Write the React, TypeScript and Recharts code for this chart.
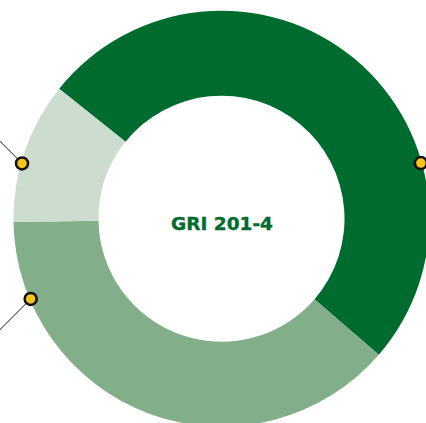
import React from 'react';
import { PieChart, Pie, Cell } from 'recharts';

const segments = ['Dark', 'Medium', 'Light'];
const shares = [50.6, 38.4, 11.0];
const colors = ['#006B2E', '#82AF89', '#CCDDCF'];
// where each callout marker sits on the ring (degrees) and which way its leader line runs
const calloutAngles = [15.6, -157.2, 164.5];
const leaderDirs = [0, -135, 135];
const centerLabel = 'GRI 201-4';

const data = segments.map((name, i) => ({ name, value: shares[i] }));

const RAD = Math.PI / 180;

const renderCallout = (props: any) => {
  const { cx, cy, outerRadius, index } = props;
  const a = calloutAngles[index] * RAD;
  const r = outerRadius - 1;
  const x = cx + r * Math.cos(a);
  const y = cy - r * Math.sin(a);
  const d = leaderDirs[index] * RAD;
  const len = 50;
  return (
    <g key={`callout-${index}`}>
      <line
        x1={x}
        y1={y}
        x2={x + len * Math.cos(d)}
        y2={y - len * Math.sin(d)}
        stroke="#1a1a1a"
        strokeWidth={1}
      />
      <circle cx={x} cy={y} r={6} fill="#F5C518" stroke="#111" strokeWidth={2.5} />
    </g>
  );
};

const App: React.FC = () => {
  return (
    <div style={{ position: 'fixed', left: 0, top: 0, width: 426, height: 423, background: '#fff', overflow: 'hidden' }}>
      <PieChart width={426} height={423} margin={{ top: 0, right: 0, bottom: 0, left: 0 }}>
        <Pie
          data={data}
          dataKey="value"
          cx={221.5}
          cy={218.7}
          innerRadius={123}
          outerRadius={208}
          startAngle={141.3}
          endAngle={-218.7}
          stroke="none"
          labelLine={false}
          label={renderCallout}
          isAnimationActive={false}
        >
          {data.map((entry, i) => (
            <Cell key={entry.name} fill={colors[i]} />
          ))}
        </Pie>
        <text
          x={222}
          y={230}
          textAnchor="middle"
          fill="#006B2E"
          stroke="#006B2E"
          strokeWidth={0.4}
          style={{ fontFamily: '"DejaVu Sans", sans-serif', fontWeight: 700, fontSize: 18.5 }}
        >
          {centerLabel}
        </text>
      </PieChart>
    </div>
  );
};

export default App;
